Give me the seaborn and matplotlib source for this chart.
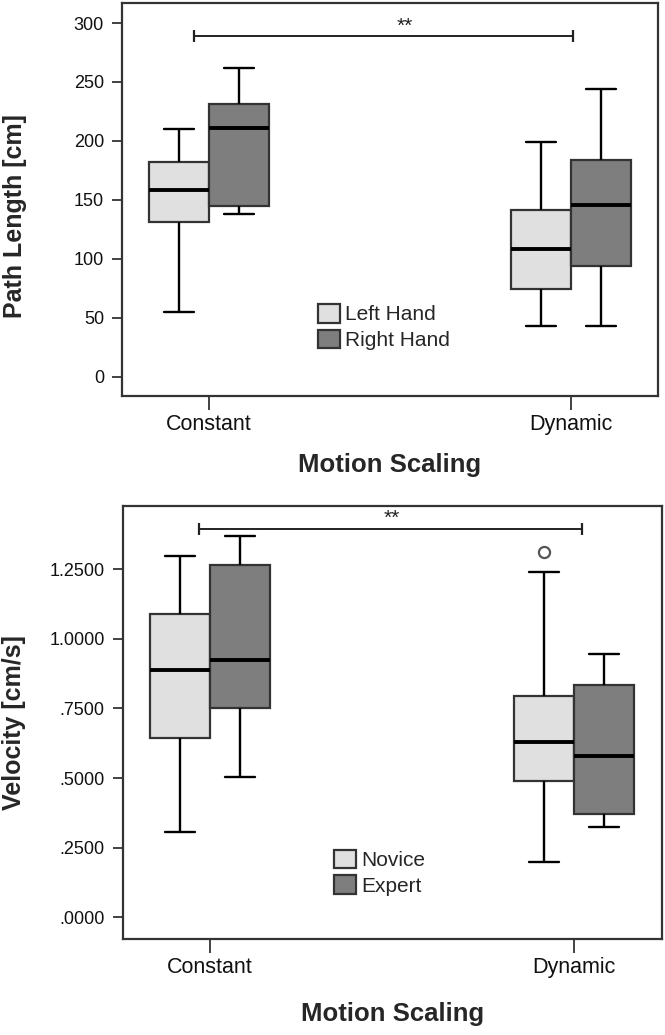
import numpy as np
import pandas as pd
import matplotlib
import matplotlib.pyplot as plt
from matplotlib.patches import Patch
import seaborn as sns

matplotlib.use('Agg')

# categories
scaling = ["Constant", "Dynamic"]
hands = ["Left Hand", "Right Hand"]
levels = ["Novice", "Expert"]

# five-number summaries:
# [low whisker, Q1, median, Q3, high whisker], one list per motion scaling
path_left = [[55, 131, 158, 182, 210], [43, 74, 108, 141, 199]]
path_right = [[138, 145, 211, 231, 262], [43, 94, 146, 184, 244]]
vel_novice = [[0.305, 0.643, 0.887, 1.090, 1.296], [0.197, 0.491, 0.631, 0.796, 1.240]]
vel_expert = [[0.504, 0.751, 0.925, 1.265, 1.369], [0.326, 0.371, 0.580, 0.834, 0.944]]

# single outlier in the velocity panel
vel_outlier_scaling = ["Dynamic"]
vel_outlier_level = ["Novice"]
vel_outlier_value = [1.310]

path_ticks = [0, 50, 100, 150, 200, 250, 300]
vel_ticks = [0.0, 0.25, 0.5, 0.75, 1.0, 1.25]
vel_tick_labels = [".0000", ".2500", ".5000", ".7500", "1.0000", "1.2500"]

# significance brackets: (height, start, end, star x, star height)
path_sig = (289, -0.04, 1.005, 0.54, 289.5)
vel_sig = (1.396, -0.03, 1.02, 0.50, 1.397)

BOX_W = 0.33
COLORS = ["#e0e0e0", "#7e7e7e"]
EDGE = "#333333"


def long_frame(hue_names, summaries, hue_col):
    rows = []
    for hue, per_scaling in zip(hue_names, summaries):
        for s, vals in zip(scaling, per_scaling):
            for v in vals:
                rows.append((s, hue, v))
    return pd.DataFrame(rows, columns=["scaling", hue_col, "value"])


def draw_panel(ax, df, hue_col, hue_names, sig, legend_anchor):
    sns.boxplot(data=df, x="scaling", y="value", hue=hue_col,
                order=scaling, hue_order=hue_names, palette=COLORS,
                width=BOX_W, gap=0, whis=(0, 100), showfliers=False,
                saturation=1, linewidth=1.6, linecolor=EDGE, legend=False,
                medianprops=dict(color="black", linewidth=2.8),
                whiskerprops=dict(color="black", linewidth=1.7),
                capprops=dict(color="black", linewidth=1.7),
                ax=ax)

    # significance bracket
    y, x0, x1, xs, ys = sig
    ax.plot([x0, x1], [y, y], color="#222222", lw=1.4, marker="|",
            markersize=9, markeredgewidth=1.6)
    ax.text(xs, ys, "**", ha="center", va="bottom", fontsize=15, color="#222222")

    handles = [Patch(facecolor=c, edgecolor=EDGE, linewidth=1.6) for c in COLORS]
    ax.legend(handles, hue_names, loc="upper left", bbox_to_anchor=legend_anchor,
              frameon=False, fontsize=15, handlelength=1.05, handleheight=1.0,
              handletextpad=0.25, labelspacing=0.25, borderpad=0, borderaxespad=0)

    ax.set_xlim(-0.24, 1.24)
    for side in ["top", "bottom", "left", "right"]:
        ax.spines[side].set_visible(True)
        ax.spines[side].set_color(EDGE)
        ax.spines[side].set_linewidth(1.6)
    ax.tick_params(axis="y", length=7, width=1.3, color=EDGE, labelsize=13, pad=6,
                   labelcolor="#111111")
    ax.tick_params(axis="x", length=10, width=1.3, color=EDGE, labelsize=15.5, pad=3,
                   labelcolor="#111111")
    ax.set_xlabel("Motion Scaling", fontsize=18.5, fontweight="bold", va="top")
    ax.xaxis.set_label_coords(0.5, -0.145)


sns.set_theme(style="ticks")
plt.rcParams["font.family"] = ["Liberation Sans", "DejaVu Sans"]

fig = plt.figure(figsize=(6.65, 10.35), dpi=100)
ax1 = fig.add_axes([0.1835, 0.6174, 0.806, 0.3797])
ax2 = fig.add_axes([0.1845, 0.0930, 0.8105, 0.4184])

# top panel: path length by hand
path_df = long_frame(hands, [path_left, path_right], "hand")
draw_panel(ax1, path_df, "hand", hands, path_sig, (0.366, 0.234))
ax1.set_ylim(-16.4, 317)
ax1.set_yticks(path_ticks)
ax1.set_ylabel("Path Length [cm]", fontsize=18, fontweight="bold")
ax1.yaxis.set_label_coords(-0.178, 0.457)

# bottom panel: velocity by expertise
vel_df = long_frame(levels, [vel_novice, vel_expert], "level")
draw_panel(ax2, vel_df, "level", levels, vel_sig, (0.392, 0.206))
ax2.set_ylim(-0.077, 1.478)
ax2.set_yticks(vel_ticks)
ax2.set_yticklabels(vel_tick_labels)
ax2.set_ylabel("Velocity [cm/s]", fontsize=18, fontweight="bold")
ax2.yaxis.set_label_coords(-0.180, 0.50)

# outlier circles, placed on the dodged box position
for s, lev, v in zip(vel_outlier_scaling, vel_outlier_level, vel_outlier_value):
    xpos = scaling.index(s) + (levels.index(lev) - 0.5) * BOX_W / 2
    ax2.plot([xpos], [v], marker="o", linestyle="none", markersize=8,
             markerfacecolor="white", markeredgecolor="#555555", markeredgewidth=1.6)

fig.savefig("out.png", dpi=100)
plt.close()
